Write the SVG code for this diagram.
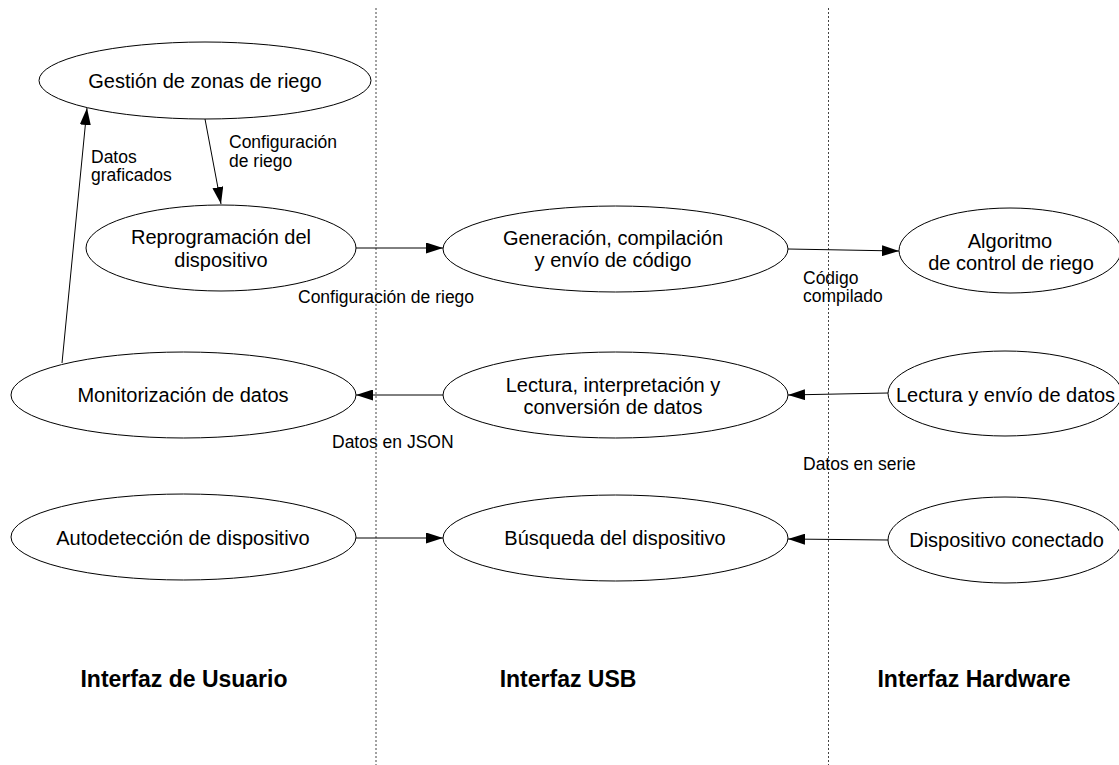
<svg xmlns="http://www.w3.org/2000/svg" width="1119" height="765" viewBox="0 0 1119 765">
<style>
.n ellipse{fill:#fff;stroke:#000;stroke-width:1}
.n text{font-family:"Liberation Sans",Arial,sans-serif;font-size:20px;fill:#000;text-anchor:middle}
.l{font-family:"Liberation Sans",Arial,sans-serif;font-size:17.5px;fill:#000}
.t{font-family:"Liberation Sans",Arial,sans-serif;font-size:23px;font-weight:bold;fill:#000;text-anchor:middle}
.e line{stroke:#000;stroke-width:1;marker-end:url(#ah)}
.sep{stroke:#444;stroke-width:1;stroke-dasharray:2,2}
</style>
<defs>
<marker id="ah" viewBox="0 0 17 11" refX="17" refY="5.5" markerWidth="17" markerHeight="11" markerUnits="userSpaceOnUse" orient="auto">
<path d="M0,0 L17,5.5 L0,11 z" fill="#000"/>
</marker>
</defs>
<rect width="1119" height="765" fill="#fff"/>
<g id="separators">
<line class="sep" x1="376" y1="8" x2="376" y2="765"/>
<line class="sep" x1="828.5" y1="8" x2="828.5" y2="765"/>
</g>
<g id="n1" class="n"><ellipse cx="205" cy="80.5" rx="166" ry="38.5"/><text x="205" y="88">Gestión de zonas de riego</text></g>
<g id="n2" class="n"><ellipse cx="221" cy="248" rx="135" ry="43"/><text x="221" y="244">Reprogramación del</text><text x="221" y="267">dispositivo</text></g>
<g id="n3" class="n"><ellipse cx="183.5" cy="395" rx="172.5" ry="43"/><text x="183" y="402">Monitorización de datos</text></g>
<g id="n4" class="n"><ellipse cx="183.5" cy="537" rx="172.5" ry="43"/><text x="183" y="545">Autodetección de dispositivo</text></g>
<g id="n5" class="n"><ellipse cx="615.5" cy="249" rx="172.5" ry="43"/><text x="613" y="245">Generación, compilación</text><text x="613" y="267">y envío de código</text></g>
<g id="n6" class="n"><ellipse cx="615.5" cy="395" rx="172.5" ry="43"/><text x="613" y="392">Lectura, interpretación y</text><text x="613" y="414">conversión de datos</text></g>
<g id="n7" class="n"><ellipse cx="615.5" cy="538" rx="172.5" ry="43"/><text x="615" y="545">Búsqueda del dispositivo</text></g>
<g id="n8" class="n"><ellipse cx="1010" cy="250.5" rx="111" ry="42.5"/><text x="1010" y="248">Algoritmo</text><text x="1011" y="270">de control de riego</text></g>
<g id="n9" class="n"><ellipse cx="1005" cy="393.5" rx="117" ry="42.5"/><text x="1005.5" y="402">Lectura y envío de datos</text></g>
<g id="n10" class="n"><ellipse cx="1005" cy="540" rx="117" ry="43"/><text x="1006.5" y="547">Dispositivo conectado</text></g>
<g id="connectors" class="e">
<line x1="205" y1="119" x2="221" y2="204"/>
<line x1="62" y1="363" x2="87" y2="108"/>
<line x1="356" y1="248" x2="443" y2="248"/>
<line x1="788" y1="249" x2="899" y2="251"/>
<line x1="888" y1="393" x2="788" y2="395"/>
<line x1="443" y1="395" x2="356" y2="395"/>
<line x1="356" y1="538" x2="443" y2="538"/>
<line x1="888" y1="540" x2="788" y2="539"/>
</g>
<g id="labels">
<text class="l" x="229" y="148">Configuración</text>
<text class="l" x="229" y="167">de riego</text>
<text class="l" x="91" y="163">Datos</text>
<text class="l" x="91" y="181">graficados</text>
<text class="l" x="298" y="303">Configuración de riego</text>
<text class="l" x="803" y="284">Código</text>
<text class="l" x="803" y="302">compilado</text>
<text class="l" x="332" y="448">Datos en JSON</text>
<text class="l" x="803" y="470">Datos en serie</text>
<text class="t" x="184" y="687">Interfaz de Usuario</text>
<text class="t" x="568" y="687">Interfaz USB</text>
<text class="t" x="974" y="687">Interfaz Hardware</text>
</g>
</svg>
